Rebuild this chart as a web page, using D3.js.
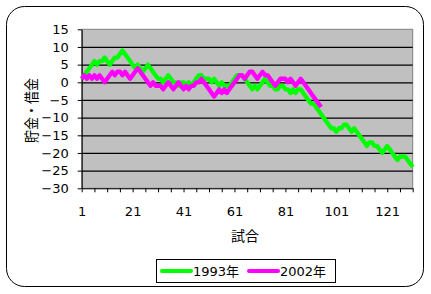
<!DOCTYPE html>
<html>
<head>
<meta charset="utf-8">
<script src="https://cdn.jsdelivr.net/npm/d3@7"></script>
<style>
  body { margin: 0; background: #fff; }
  text { font-family: "DejaVu Sans", "Noto Sans CJK JP", sans-serif; fill: #000; }
</style>
</head>
<body>
<script>
// Win/loss balance (貯金・借金) after each game
var games1993 = d3.range(1, 132);
var values1993 = [
  1, 2, 3, 4, 5, 6, 5, 6, 6, 7,
  6, 5, 6, 7, 7, 8, 9, 8, 7, 6,
  5, 4, 5, 4, 3, 4, 5, 4, 3, 2,
  1, 1, 0, 1, 2, 1, 0, 0, -1, 0,
  0, -1, 0, -1, 0, 1, 2, 2, 1, 1,
  1, 0, 1, 0, -1, 0, -1, -1, -1, 0,
  1, 2, 2, 2, 1, 0, -1, -2, -1, -2,
  -1, 0, 1, 0, -1, -1, -2, -2, -1, -1,
  -2, -2, -3, -2, -3, -2, -2, -3, -4, -5,
  -6, -6, -7, -8, -9, -10, -11, -12, -13, -13,
  -14, -13, -13, -12, -12, -13, -14, -13, -14, -15,
  -16, -17, -18, -17, -17, -18, -18, -19, -20, -19,
  -18, -19, -20, -21, -22, -21, -21, -21, -22, -23,
  -24
];
var games2002 = d3.range(1, 96);
var values2002 = [
  1, 2, 1, 2, 1, 2, 1, 2, 1, 0,
  1, 2, 3, 2, 3, 3, 2, 3, 2, 1,
  2, 3, 4, 3, 2, 1, 0, -1, 0, -1,
  -1, -1, -2, -1, 0, -1, -2, -1, 0, -1,
  -2, -1, -2, -1, -1, 0, 0, 1, 0, -1,
  -2, -3, -4, -3, -2, -3, -2, -3, -2, -1,
  0, 1, 2, 2, 1, 2, 3, 3, 2, 1,
  2, 3, 2, 2, 1, 0, -1, 0, 1, 1,
  1, 0, 1, 0, -1, 0, 1, 0, -1, -2,
  -3, -4, -5, -6, -7
];
var seriesNames = ["1993年", "2002年"];
var seriesColors = ["#00ff00", "#ff00ff"];
var yTicks = [-30, -25, -20, -15, -10, -5, 0, 5, 10, 15];
var xLabelTicks = [1, 21, 41, 61, 81, 101, 121];
var xMarkTicks = d3.range(1, 132, 5);

var width = 431, height = 294;
var plot = {left: 81.7, top: 29.3, right: 412.7, bottom: 188.3};

var svg = d3.select("body").append("svg")
  .attr("width", width)
  .attr("height", height);

// chart border
svg.append("rect")
  .attr("x", 6.5).attr("y", 6.5)
  .attr("width", 417).attr("height", 280)
  .attr("rx", 18).attr("ry", 18)
  .attr("fill", "#fff")
  .attr("stroke", "#000")
  .attr("stroke-width", 1);

var xScale = d3.scaleLinear().domain([1, 131]).range([plot.left, plot.right]);
var yScale = d3.scaleLinear().domain([-30, 15]).range([plot.bottom, plot.top]);

// plot area
svg.append("rect")
  .attr("x", plot.left).attr("y", plot.top)
  .attr("width", plot.right - plot.left)
  .attr("height", plot.bottom - plot.top)
  .attr("fill", "#c0c0c0")
  .attr("stroke", "#808080")
  .attr("stroke-width", 1);

// gridlines
var grid = svg.append("g")
  .attr("transform", "translate(" + plot.left + ",0)")
  .call(d3.axisLeft(yScale)
    .tickValues(yTicks.filter(function(d) { return d > -30 && d < 15; }))
    .tickSize(-(plot.right - plot.left))
    .tickFormat(""));
grid.select(".domain").remove();
grid.selectAll("line").attr("stroke", "#000").attr("stroke-width", 1.2);

// y axis
var yAxisG = svg.append("g")
  .attr("transform", "translate(" + plot.left + ",0)")
  .call(d3.axisLeft(yScale).tickValues(yTicks).tickSizeInner(4).tickSizeOuter(0).tickPadding(9));
yAxisG.selectAll("text").style("font-size", "13px");

// x axis: tick marks every 5 games
var xAxisG = svg.append("g")
  .attr("transform", "translate(0," + plot.bottom + ")")
  .call(d3.axisBottom(xScale).tickValues(xMarkTicks).tickSizeInner(4).tickSizeOuter(0).tickFormat(""));

// x axis labels
var xLabG = svg.append("g")
  .attr("transform", "translate(0," + plot.bottom + ")")
  .call(d3.axisBottom(xScale).tickValues(xLabelTicks).tickSize(0).tickPadding(18).tickFormat(d3.format("d")));
xLabG.select(".domain").remove();
xLabG.selectAll("text").style("font-size", "13px");

svg.selectAll(".domain, .tick line").filter(function() {
  return this.parentNode !== grid.node() && this.parentNode.parentNode !== grid.node();
}).attr("stroke", "#000");

// lines
var line = d3.line()
  .x(function(d) { return xScale(d[0]); })
  .y(function(d) { return yScale(d[1]); });

var data1993 = d3.zip(games1993, values1993);
var data2002 = d3.zip(games2002, values2002);

svg.append("path")
  .datum(data1993)
  .attr("d", line)
  .attr("fill", "none")
  .attr("stroke", seriesColors[0])
  .attr("stroke-width", 4.3)
  .attr("stroke-linejoin", "round");

svg.append("path")
  .datum(data2002)
  .attr("d", line)
  .attr("fill", "none")
  .attr("stroke", seriesColors[1])
  .attr("stroke-width", 4.3)
  .attr("stroke-linejoin", "round");

// axis titles
svg.append("text")
  .attr("x", 245).attr("y", 241)
  .attr("text-anchor", "middle")
  .style("font-size", "14px")
  .text("試合");

svg.append("text")
  .attr("transform", "translate(36.5,110.5) rotate(-90)")
  .attr("text-anchor", "middle")
  .attr("textLength", 65)
  .attr("lengthAdjust", "spacingAndGlyphs")
  .style("font-size", "15px")
  .text("貯金・借金");

// legend
var legend = svg.append("g");
legend.append("rect")
  .attr("x", 156.5).attr("y", 259.5)
  .attr("width", 179).attr("height", 23)
  .attr("fill", "#fff")
  .attr("stroke", "#000");

var legendX = [162, 249];
seriesNames.forEach(function(name, i) {
  legend.append("line")
    .attr("x1", legendX[i]).attr("x2", legendX[i] + 29)
    .attr("y1", 271).attr("y2", 271)
    .attr("stroke", seriesColors[i])
    .attr("stroke-width", 4)
    .attr("stroke-linecap", "round");
  legend.append("text")
    .attr("x", legendX[i] + 31).attr("y", 276)
    .style("font-size", "13px")
    .text(name);
});
</script>
</body>
</html>
